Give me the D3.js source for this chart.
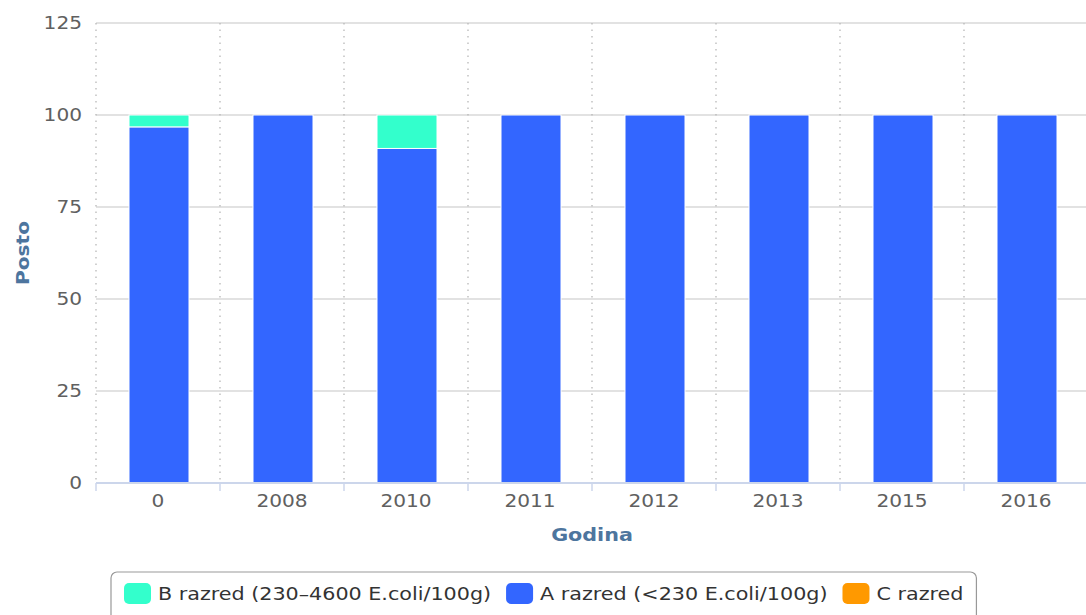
<!DOCTYPE html>
<html>
<head>
<meta charset="utf-8">
<script src="https://cdn.jsdelivr.net/npm/d3@7/dist/d3.min.js"></script>
<style>
  html, body { margin: 0; padding: 0; background: #fff; }
  svg { display: block; font-family: "DejaVu Sans", Verdana, sans-serif; }
</style>
</head>
<body>
<svg id="chart" width="1086" height="615"></svg>
<script>
// Share of samples per quality class, by year
const categories = ["0", "2008", "2010", "2011", "2012", "2013", "2015", "2016"];
const seriesB = [3.23, 0, 9.09, 0, 0, 0, 0, 0];
const seriesA = [96.77, 100, 90.91, 100, 100, 100, 100, 100];
const seriesC = [0, 0, 0, 0, 0, 0, 0, 0];
const yTicks = [0, 25, 50, 75, 100, 125];

const seriesNames = ["B razred (230–4600 E.coli/100g)", "A razred (<230 E.coli/100g)", "C razred"];
const seriesColors = ["#33ffcc", "#3366ff", "#ff9900"];

// text is drawn slightly widened along its reading direction
const WIDE = 1.15;
const place = (x, y, rot) => `translate(${x},${y})${rot ? ` rotate(${rot})` : ""} scale(${WIDE},1)`;

const svg = d3.select("#chart");
const margin = { left: 96, right: 1088, top: 23, bottom: 483 };

const x = d3.scaleBand().domain(categories).range([margin.left, margin.right]).paddingInner(0).paddingOuter(0);
const y = d3.scaleLinear().domain([0, 125]).range([margin.bottom, margin.top]);
const barWidth = 60;

// horizontal grid
svg.append("g").selectAll("line").data(yTicks).join("line")
  .attr("x1", margin.left).attr("x2", 1086)
  .attr("y1", d => y(d)).attr("y2", d => y(d))
  .attr("stroke", "#d8d8d8").attr("stroke-width", 1.5);

// vertical dotted grid at category boundaries
svg.append("g").selectAll("line").data(categories).join("line")
  .attr("x1", d => x(d)).attr("x2", d => x(d))
  .attr("y1", margin.top).attr("y2", margin.bottom)
  .attr("stroke", "#b8b8b8").attr("stroke-width", 1.3)
  .attr("stroke-dasharray", "1.5,5");

// stacked bars (first series on top)
const rows = categories.map((c, i) => ({ cat: c, B: seriesB[i], A: seriesA[i], C: seriesC[i] }));
const stacked = d3.stack().keys(["C", "A", "B"])(rows);
const colorByKey = { B: seriesColors[0], A: seriesColors[1], C: seriesColors[2] };

svg.append("g").selectAll("g").data(stacked).join("g")
  .attr("fill", d => colorByKey[d.key])
  .selectAll("rect").data(d => d.filter(p => p[1] - p[0] > 0)).join("rect")
  .attr("x", d => x(d.data.cat) + x.bandwidth() / 2 - barWidth / 2 + 1)
  .attr("width", barWidth)
  .attr("y", d => y(d[1]))
  .attr("height", d => y(d[0]) - y(d[1]))
  .attr("stroke", "#ffffff").attr("stroke-width", 1);

// x axis
const xAxis = svg.append("g").attr("transform", `translate(0,${margin.bottom})`);
xAxis.append("line").attr("x1", margin.left).attr("x2", 1086).attr("y1", 0).attr("y2", 0)
  .attr("stroke", "#ccd6eb").attr("stroke-width", 2);
xAxis.selectAll("line.tick").data(categories).join("line").attr("class", "tick")
  .attr("x1", d => x(d)).attr("x2", d => x(d)).attr("y1", 0).attr("y2", 8)
  .attr("stroke", "#ccd6eb").attr("stroke-width", 1.5);
xAxis.selectAll("text").data(categories).join("text")
  .attr("transform", d => place(x(d) + x.bandwidth() / 2, 24))
  .attr("text-anchor", "middle").attr("font-size", 17.5).attr("fill", "#606060")
  .text(d => d);

// y tick labels
svg.append("g").selectAll("text").data(yTicks).join("text")
  .attr("transform", d => place(82, y(d) + 6))
  .attr("text-anchor", "end").attr("font-size", 17.5).attr("fill", "#606060")
  .text(d => d);

// axis titles
svg.append("text")
  .attr("transform", place(29, (margin.top + margin.bottom) / 2, -90))
  .attr("text-anchor", "middle").attr("font-size", 17.5).attr("font-weight", "bold")
  .attr("fill", "#4d759e").text("Posto");
svg.append("text")
  .attr("transform", place((margin.left + margin.right) / 2, 541))
  .attr("text-anchor", "middle").attr("font-size", 18).attr("font-weight", "bold")
  .attr("fill", "#4d759e").text("Godina");

// legend
const legend = svg.append("g");
const legendBox = legend.append("rect")
  .attr("x", 111).attr("y", 572).attr("rx", 6).attr("height", 70)
  .attr("fill", "#fff").attr("stroke", "#999").attr("stroke-width", 1.2);
let cx = 124;
seriesNames.forEach((name, i) => {
  legend.append("rect").attr("x", cx).attr("y", 583).attr("width", 27).attr("height", 21)
    .attr("rx", 5).attr("fill", seriesColors[i]);
  const t = legend.append("text").attr("transform", place(cx + 34, 600))
    .attr("font-size", 18).attr("fill", "#333333").text(name);
  cx += 34 + t.node().getComputedTextLength() * WIDE + 15;
});
legendBox.attr("width", cx - 111 - 2);
</script>
</body>
</html>
